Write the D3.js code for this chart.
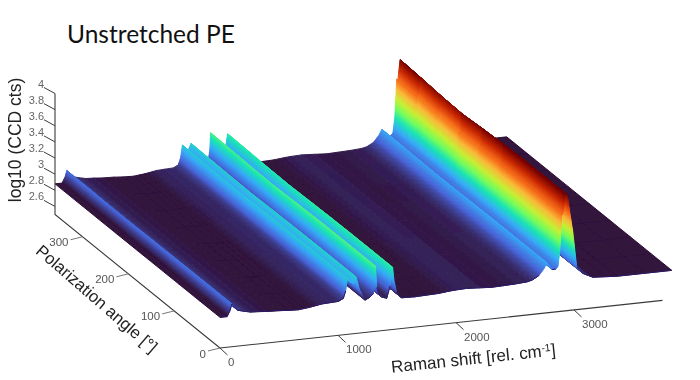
<!DOCTYPE html>
<html>
<head>
<meta charset="utf-8">
<script src="https://cdn.jsdelivr.net/npm/d3@7"></script>
<style>
  body { margin: 0; background: #fff; }
  svg { display: block; }
  text { font-family: "Liberation Sans", Arial, sans-serif; }
</style>
</head>
<body>
<svg width="700" height="380"></svg>
<script>
// values
var ramanShift = [0, 60, 85, 100, 125, 150, 200, 260, 325, 400, 494, 580, 664, 760, 862, 930, 1003, 1045, 1065, 1080,
  1100, 1130, 1153, 1180, 1229, 1270, 1300, 1312, 1319, 1328, 1345, 1370, 1413, 1441, 1455, 1463, 1475, 1497, 1525, 1540,
  1650, 1750, 1850, 1950, 2000, 2090, 2200, 2300, 2400, 2500, 2600, 2644, 2700, 2745, 2771, 2790, 2815, 2845, 2864, 2880,
  2896, 2905, 2924, 2945, 2966, 2989, 3023, 3076, 3161, 3362, 3600, 3828];
var logCounts = [2.88, 2.88, 2.95, 3.03, 2.98, 2.945, 2.925, 2.905, 2.9, 2.89, 2.885, 2.875, 2.87, 2.885, 2.91, 2.915, 2.92, 2.95, 3.04, 3.19,
  3.15, 3.12, 3.2, 3.05, 2.9, 2.93, 2.97, 3.1, 3.306, 3.04, 2.95, 2.917, 2.894, 3.04, 3.2, 3.27, 3.1, 2.955, 2.9, 2.88,
  2.875, 2.88, 2.885, 2.9, 2.905, 2.91, 2.9, 2.89, 2.895, 2.9, 2.91, 2.925, 2.97, 3.05, 3.12, 3.08, 3.03, 3.03, 3.06, 3.25,
  3.72, 3.7, 3.96, 3.93, 3.7, 3.48, 3.03, 2.94, 2.88, 2.86, 2.86, 2.86];
var angles = [0, 45, 90, 135, 180, 225, 270, 315, 360];
var angleGain = [1, 1, 1, 0.99, 0.975, 0.955, 0.965, 0.985, 1];
var shiftTicks = [0, 1000, 2000, 3000];
var angleTicks = [0, 100, 200, 300];
var countTicks = [2.6, 2.8, 3, 3.2, 3.4, 3.6, 3.8, 4];
var turboStops = ["#30123b", "#4662d7", "#36aaf9", "#1ae4b6", "#72fe5e", "#c8ef34", "#faba39", "#f66b19", "#cb2a04", "#7a0403"];
var baseLevel = 2.86;

var svg = d3.select("svg");

// oblique 3d box, each data axis gets a screen offset
var shiftX = d3.scaleLinear().domain([0, 1000]).range([0, 118]);
var shiftY = d3.scaleLinear().domain([0, 1000]).range([0, -12.7]);
var angleX = d3.scaleLinear().domain([0, 360]).range([0, -165]);
var angleY = d3.scaleLinear().domain([0, 360]).range([0, -133.5]);
var countY = d3.scaleLinear().domain([2.5, 4]).range([0, -121]);
var color = d3.scaleLinear()
  .domain(turboStops.map(function (d, i) { return 2.885 + (1.05 * i) / (turboStops.length - 1); }))
  .range(turboStops)
  .clamp(true);

function project(s, a, c) {
  return [220 + shiftX(s) + angleX(a), 348 + shiftY(s) + angleY(a) + countY(c)];
}

var defs = svg.append("defs");
defs.append("filter").attr("id", "soft").append("feGaussianBlur").attr("stdDeviation", 0.55);
defs.append("filter").attr("id", "softer").append("feGaussianBlur").attr("stdDeviation", 0.3);

// surface, far strips first so that the nearer ones cover them
var cells = [];
for (var i = ramanShift.length - 2; i >= 0; i--) {
  var dz = Math.abs(logCounts[i + 1] - logCounts[i]);
  var parts = Math.max(1, Math.ceil(dz / 0.012));
  for (var k = parts - 1; k >= 0; k--) {
    var t0 = k / parts, t1 = (k + 1) / parts;
    var s0 = ramanShift[i] + (ramanShift[i + 1] - ramanShift[i]) * t0;
    var s1 = ramanShift[i] + (ramanShift[i + 1] - ramanShift[i]) * t1;
    var c0 = logCounts[i] + (logCounts[i + 1] - logCounts[i]) * t0;
    var c1 = logCounts[i] + (logCounts[i + 1] - logCounts[i]) * t1;
    for (var j = angles.length - 2; j >= 0; j--) {
      cells.push({ s0: s0, s1: s1, c0: c0, c1: c1, j: j });
    }
  }
}

function lift(c, j) {
  return baseLevel + (c - baseLevel) * angleGain[j];
}

var surface = svg.append("g").attr("filter", "url(#soft)");
surface.selectAll("path")
  .data(cells)
  .enter()
  .append("path")
  .attr("d", function (d) {
    var pts = [
      project(d.s0, angles[d.j], lift(d.c0, d.j)),
      project(d.s1, angles[d.j], lift(d.c1, d.j)),
      project(d.s1, angles[d.j + 1], lift(d.c1, d.j + 1)),
      project(d.s0, angles[d.j + 1], lift(d.c0, d.j + 1)),
    ];
    return "M" + pts.join("L") + "Z";
  })
  .attr("fill", function (d) {
    return color((lift(d.c0, d.j) + lift(d.c1, d.j)) / 2);
  })
  .attr("stroke", function (d) {
    return color((lift(d.c0, d.j) + lift(d.c1, d.j)) / 2);
  })
  .attr("stroke-width", 1);

// dark rim on the low parts of the front edge
var rim = d3.line()
  .defined(function (d, i) { return logCounts[i] < 3.05; })
  .x(function (d, i) { return project(d, 0, logCounts[i])[0]; })
  .y(function (d, i) { return project(d, 0, logCounts[i])[1]; });
surface.append("path")
  .attr("d", rim(ramanShift))
  .attr("fill", "none")
  .attr("stroke", "#2b1a66")
  .attr("stroke-width", 1);

// axes
var axes = svg.append("g").attr("filter", "url(#softer)");
var axisColor = "#3a3a3a";
var shiftEnd = 3750;
var line = d3.line();
axes.append("path").attr("d", line([project(0, 0, 2.5), project(shiftEnd, 0, 2.5)]))
  .attr("fill", "none").attr("stroke", axisColor).attr("stroke-width", 1.1);
axes.append("path").attr("d", line([project(0, 0, 2.5), project(0, 360, 2.5), project(0, 360, 4)]))
  .attr("fill", "none").attr("stroke", axisColor).attr("stroke-width", 1.1);

shiftTicks.forEach(function (v) {
  var p = project(v, 0, 2.5);
  axes.append("path").attr("d", line([p, [p[0] + 7.5, p[1] + 7]]))
    .attr("stroke", axisColor).attr("fill", "none");
  axes.append("text").attr("x", p[0] + 8).attr("y", p[1] + 18)
    .attr("font-size", 11.5).attr("fill", "#555").text(v);
});

angleTicks.forEach(function (v) {
  var p = project(0, v, 2.5);
  axes.append("path").attr("d", line([p, [p[0] - 12, p[1] + 3]]))
    .attr("stroke", "#777").attr("fill", "none");
  axes.append("text").attr("x", p[0] - 14).attr("y", p[1] + 9.5)
    .attr("text-anchor", "end")
    .attr("font-size", 11.5).attr("fill", "#555").text(v);
});

countTicks.forEach(function (v) {
  var p = project(0, 360, v);
  axes.append("path").attr("d", line([p, [p[0] - 11, p[1] - 6]]))
    .attr("stroke", axisColor).attr("fill", "none");
  axes.append("text").attr("x", p[0] - 11).attr("y", p[1] - 6)
    .attr("text-anchor", "end")
    .attr("font-size", 11).attr("fill", "#666").text(v);
});

// titles
axes.append("text")
  .attr("transform", "translate(21,140) rotate(-90)")
  .attr("text-anchor", "middle")
  .attr("font-size", 17.5).attr("fill", "#222")
  .text("log10 (CCD cts)");

axes.append("text")
  .attr("transform", "translate(93,303) rotate(41)")
  .attr("text-anchor", "middle")
  .attr("font-size", 16.8).attr("fill", "#222")
  .text("Polarization angle [°]");

var shiftLabel = axes.append("text")
  .attr("transform", "translate(474,364) rotate(-6)")
  .attr("text-anchor", "middle")
  .attr("font-size", 17).attr("fill", "#222")
  .text("Raman shift [rel. cm");
shiftLabel.append("tspan").attr("dy", -5).attr("font-size", 10.5).text("-1");
shiftLabel.append("tspan").attr("dy", 5).text("]");

svg.append("text")
  .attr("x", 67).attr("y", 43)
  .attr("font-size", 24.5).attr("fill", "#111")
  .style("font-family", "Lato, sans-serif")
  .text("Unstretched PE");
</script>
</body>
</html>
